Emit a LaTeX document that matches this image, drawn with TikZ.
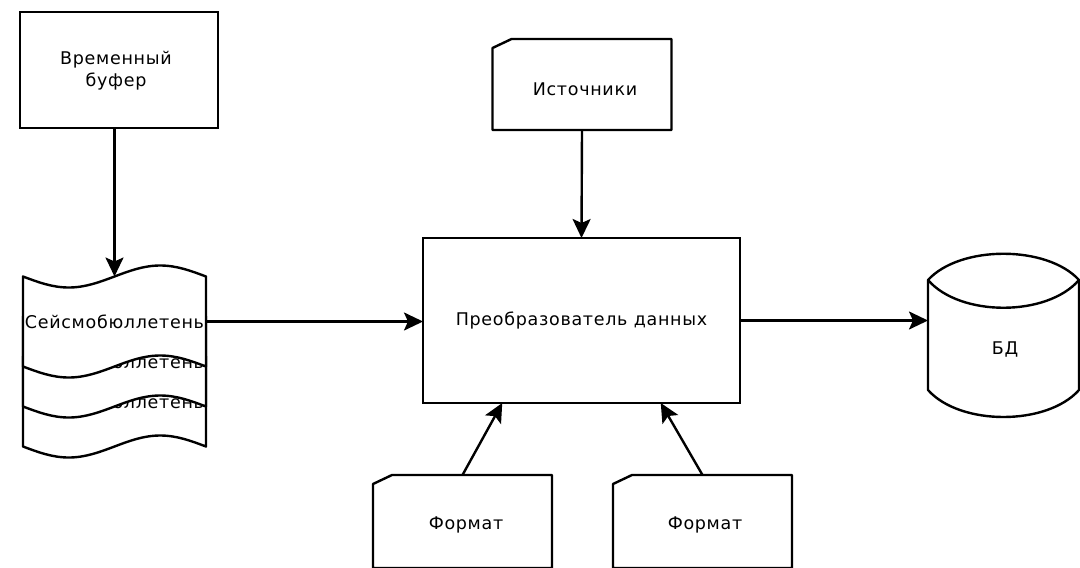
\documentclass[tikz,border=0pt]{standalone}
\usepackage{fontspec}
\setmainfont{DejaVu Sans}[LetterSpace=4]
\usetikzlibrary{arrows.meta,calc}

\begin{document}
\begin{tikzpicture}[x=1pt,y=-1pt,line width=2.4pt,
  lbl/.style={font=\fontsize{17.5}{22}\selectfont,inner sep=0pt,align=center},
  frame/.style={draw,rectangle,inner sep=0pt,outer sep=0pt},
  slot/.style={rectangle,inner sep=0pt,outer sep=0pt},
  shapeline/.style={draw=black,fill=white,line join=round},
  arr/.style={-{Stealth[length=19pt,width=18pt,inset=4pt]}},
]
% canvas
\fill[white] (0,0) rectangle (1080,568);
\clip (0,0) rectangle (1080,568);

% temporary buffer
\node[frame,minimum width=198,minimum height=116] (buf) at (119,70) {};
\node[lbl] (buft) at (116,71) {Временный\\буфер};

% stacked bulletins: back layer first, each one hides the top of the one behind
\node[slot,minimum width=183,minimum height=90] (b3) at (114.5,401.5) {};
\node[slot,minimum width=183,minimum height=90] (b2) at (114.5,361.5) {};
\node[slot,minimum width=183,minimum height=90] (b1) at (114.5,321.5) {};

\draw[shapeline,shift={(b3.north west)}]
  (0,0) sin (45.75,11) cos (91.5,0) sin (137.25,-11) cos (183,0)
  -- (183,90) sin (137.25,79) cos (91.5,90) sin (45.75,101) cos (0,90) -- cycle;
\node[lbl] (b3t) at (b3) {Сейсмобюллетень};
\draw[shapeline,shift={(b2.north west)}]
  (0,0) sin (45.75,11) cos (91.5,0) sin (137.25,-11) cos (183,0)
  -- (183,90) sin (137.25,79) cos (91.5,90) sin (45.75,101) cos (0,90) -- cycle;
\node[lbl] (b2t) at (b2) {Сейсмобюллетень};
\draw[shapeline,shift={(b1.north west)}]
  (0,0) sin (45.75,11) cos (91.5,0) sin (137.25,-11) cos (183,0)
  -- (183,90) sin (137.25,79) cos (91.5,90) sin (45.75,101) cos (0,90) -- cycle;
\node[lbl] (b1t) at (b1) {Сейсмобюллетень};

% data converter
\node[frame,lbl,minimum width=317,minimum height=165] (conv) at (581.5,320.5) {Преобразователь данных};

% sources card
\node[slot,minimum width=179,minimum height=91] (src) at (582,84.5) {};
\draw[shapeline] ($(src.north west)+(0,9)$) -- ($(src.north west)+(19,0)$)
  -- (src.north east) -- (src.south east) -- (src.south west) -- cycle;
\node[lbl] (srct) at (585,89) {Источники};

% format cards
\node[slot,minimum width=179,minimum height=93] (fmt1) at (462.5,521.5) {};
\draw[shapeline] ($(fmt1.north west)+(0,9)$) -- ($(fmt1.north west)+(19,0)$)
  -- (fmt1.north east) -- (fmt1.south east) -- (fmt1.south west) -- cycle;
\node[lbl] (fmt1t) at (466,525) {Формат};

\node[slot,minimum width=179,minimum height=93] (fmt2) at (702.5,521.5) {};
\draw[shapeline] ($(fmt2.north west)+(0,9)$) -- ($(fmt2.north west)+(19,0)$)
  -- (fmt2.north east) -- (fmt2.south east) -- (fmt2.south west) -- cycle;
\node[lbl] (fmt2t) at (705,525) {Формат};

% database cylinder
\node[slot,minimum width=151,minimum height=165] (db) at (1003.5,334.5) {};
\draw[shapeline,shift={(db.north west)}]
  (0,28) .. controls (32,-7) and (119,-7) .. (151,28) -- (151,138)
  .. controls (119,174) and (32,174) .. (0,138) -- cycle;
\draw[shift={(db.north west)}]
  (0,28) .. controls (32,65) and (119,65) .. (151,28);
\node[lbl] (dbt) at (1005,349) {БД};

% connectors
\draw[arr] (buf.south -| b1.north) -- (b1.north);
\draw[arr] (src.south) -- (conv.north);
\draw[arr] (b1.east) -- (b1.east -| conv.west);
\draw[arr] (conv.east) -- (conv.east -| db.west);
\draw[arr] (fmt1.north) -- ($(conv.south west)!0.25!(conv.south east)$);
\draw[arr] (fmt2.north) -- ($(conv.south west)!0.75!(conv.south east)$);
\end{tikzpicture}
\end{document}
